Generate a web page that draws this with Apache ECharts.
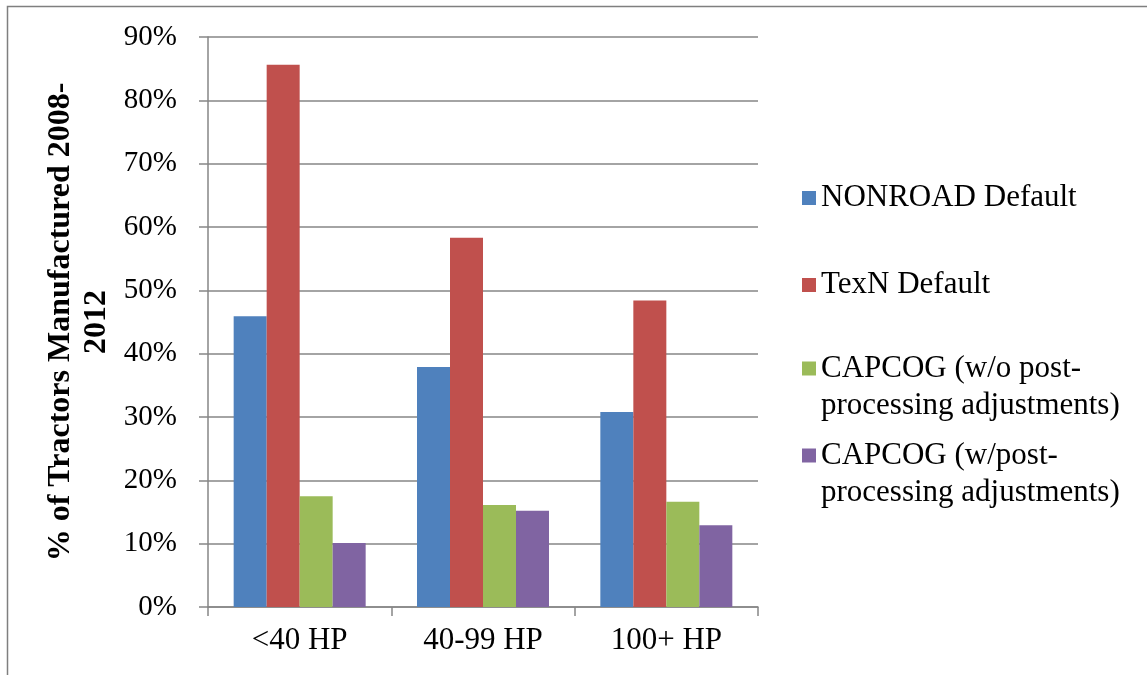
<!DOCTYPE html>
<html>
<head>
<meta charset="utf-8">
<script src="https://cdn.jsdelivr.net/npm/echarts@6/dist/echarts.min.js"></script>
<style>
html,body{margin:0;padding:0;background:#fff;}
#chart{width:1147px;height:675px;}
</style>
</head>
<body>
<div id="chart"></div>
<script>
const categories = ['<40 HP', '40-99 HP', '100+ HP'];
const seriesNames = [
  'NONROAD Default',
  'TexN Default',
  'CAPCOG (w/o post-\nprocessing adjustments)',
  'CAPCOG (w/post-\nprocessing adjustments)'
];
const nonroadDefault = [45.9, 37.9, 30.8];
const texnDefault = [85.6, 58.3, 48.4];
const capcogWithout = [17.5, 16.1, 16.6];
const capcogWith = [10.1, 15.2, 12.9];
const yTicks = [0, 10, 20, 30, 40, 50, 60, 70, 80, 90];
const yAxisTitle = '% of Tractors Manufactured 2008-\n2012';

const colors = ['#4F81BD', '#C0504D', '#9BBB59', '#8064A2'];
const seriesData = [nonroadDefault, texnDefault, capcogWithout, capcogWith];
const FONT = '"Liberation Serif", "Times New Roman", serif';
const gray = '#868686';

function legendFor(i, top) {
  const multi = seriesNames[i].indexOf('\n') >= 0;
  const L = multi ? 37 : 36;
  return {
    data: [seriesNames[i]],
    left: 802,
    top: top,
    padding: 0,
    itemWidth: 14,
    itemHeight: 14,
    icon: 'rect',
    selectedMode: false,
    formatter: multi ? (n => '\n' + n) : (n => n),
    textStyle: {
      fontFamily: FONT,
      fontSize: 31,
      color: '#000',
      lineHeight: L
    }
  };
}

const chart = echarts.init(document.getElementById('chart'));
chart.setOption({
  animation: false,
  backgroundColor: '#fff',
  color: colors,
  graphic: [{
    type: 'rect',
    shape: { x: 7.5, y: 6.5, width: 1200, height: 700 },
    style: { fill: 'none', stroke: '#7f7f7f', lineWidth: 1.5 },
    silent: true
  }],
  grid: { left: 208, right: 389, top: 37, bottom: 68, containLabel: false },
  legend: [
    legendFor(0, 180),
    legendFor(1, 267),
    legendFor(2, 313),
    legendFor(3, 400)
  ],
  xAxis: {
    type: 'category',
    data: categories,
    axisLine: { lineStyle: { color: gray, width: 1.5 } },
    axisTick: { show: true, length: 9, lineStyle: { color: gray, width: 1.5 } },
    axisLabel: { fontFamily: FONT, fontSize: 31, color: '#000', margin: 18 }
  },
  yAxis: {
    type: 'value',
    min: yTicks[0],
    max: yTicks[yTicks.length - 1],
    interval: yTicks[1] - yTicks[0],
    name: yAxisTitle,
    nameLocation: 'middle',
    nameRotate: 90,
    nameGap: 93,
    nameTextStyle: { fontFamily: FONT, fontSize: 32, fontWeight: 'bold', color: '#000', lineHeight: 36, align: 'center' },
    axisLine: { show: true, lineStyle: { color: gray, width: 1.5 } },
    axisTick: { show: true, length: 9, lineStyle: { color: gray, width: 1.5 } },
    splitLine: { lineStyle: { color: gray, width: 1.5 } },
    axisLabel: { fontFamily: FONT, fontSize: 29, color: '#000', margin: 31, formatter: '{value}%' }
  },
  series: seriesNames.map((name, i) => ({
    name: name,
    type: 'bar',
    data: seriesData[i],
    barGap: '0%',
    barCategoryGap: '28%',
    itemStyle: { color: colors[i] }
  }))
});
</script>
</body>
</html>
